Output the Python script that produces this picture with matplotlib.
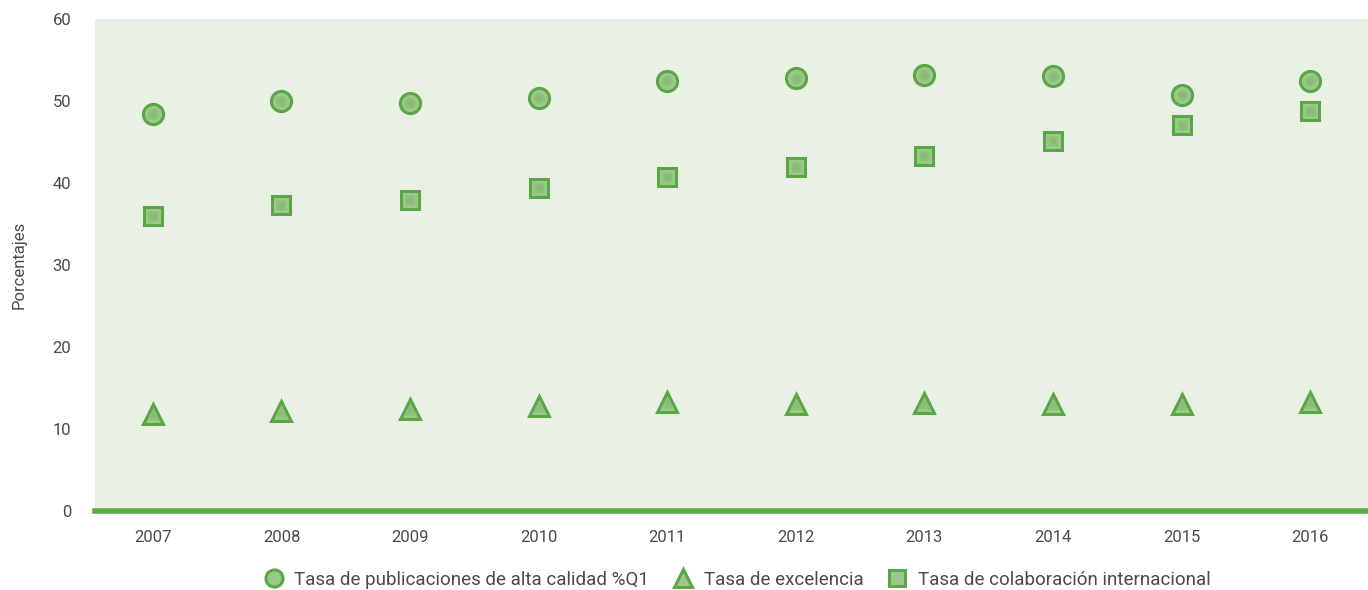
import numpy as np
import matplotlib
matplotlib.use("Agg")
import matplotlib.pyplot as plt

years = ["2007", "2008", "2009", "2010", "2011", "2012", "2013", "2014", "2015", "2016"]
q1_rate = [48.4, 50.0, 49.8, 50.4, 52.4, 52.8, 53.2, 53.0, 50.7, 52.4]
excellence_rate = [11.8, 12.2, 12.4, 12.8, 13.3, 13.0, 13.2, 13.0, 13.0, 13.3]
intl_collab_rate = [36.0, 37.3, 37.9, 39.4, 40.7, 42.0, 43.3, 45.1, 47.1, 48.8]
labels = ["Tasa de publicaciones de alta calidad %Q1",
          "Tasa de excelencia",
          "Tasa de colaboración internacional"]

plt.rcParams['font.family'] = ['Roboto', 'DejaVu Sans']
text_color = "#4a4a4a"
edge = "#5ba647"
fill = "#9cc98b"
inner = "#80b86a"

fig = plt.figure(figsize=(13.68, 5.9), dpi=100)
ax = fig.add_axes([95 / 1368, 1 - 511 / 590, (1368 - 95) / 1368, (511 - 19) / 590])
ax.set_facecolor("#e9f1e5")

x = np.arange(len(years))
series = [(q1_rate, "o", 14.5), (excellence_rate, "^", 15), (intl_collab_rate, "s", 13.5)]
handles = []
for (vals, mk, ms), lab in zip(series, labels):
    h, = ax.plot(x, vals, linestyle="none", marker=mk, markersize=ms,
                 markerfacecolor=fill, markeredgecolor=edge, markeredgewidth=2.2,
                 label=lab, zorder=3)
    # darker centre to hint at the gradient fill
    ax.plot(x, vals, linestyle="none", marker=mk, markersize=ms * 0.55,
            markerfacecolor=inner, markeredgecolor="none", alpha=0.45, zorder=4)
    ax.plot(x, vals, linestyle="none", marker=mk, markersize=ms * 0.3,
            markerfacecolor=inner, markeredgecolor="none", alpha=0.5, zorder=5)
    handles.append(h)

ax.set_xlim(-0.45, 9.45)
ax.set_ylim(0, 60)
ax.set_yticks(range(0, 61, 10))
ax.set_xticks(x)
ax.set_xticklabels(years)
for s in ["top", "right", "left"]:
    ax.spines[s].set_visible(False)
ax.spines["bottom"].set_color("#5fa84a")
ax.spines["bottom"].set_linewidth(4)
ax.tick_params(axis="both", length=0, labelsize=12, colors=text_color)
ax.tick_params(axis="x", pad=14)
ax.tick_params(axis="y", pad=17)
ax.set_ylabel("Porcentajes", fontsize=12, color=text_color)
ax.yaxis.set_label_coords(-68 / 1273, 0.5)

fig.legend(handles=handles, loc="center", bbox_to_anchor=(0.539, 1 - 580 / 590),
           ncol=3, frameon=False, fontsize=13.5, labelcolor=text_color,
           handlelength=1.0, handletextpad=0.6, columnspacing=1.3, markerscale=0.85)

fig.savefig("out.png", dpi=100)
